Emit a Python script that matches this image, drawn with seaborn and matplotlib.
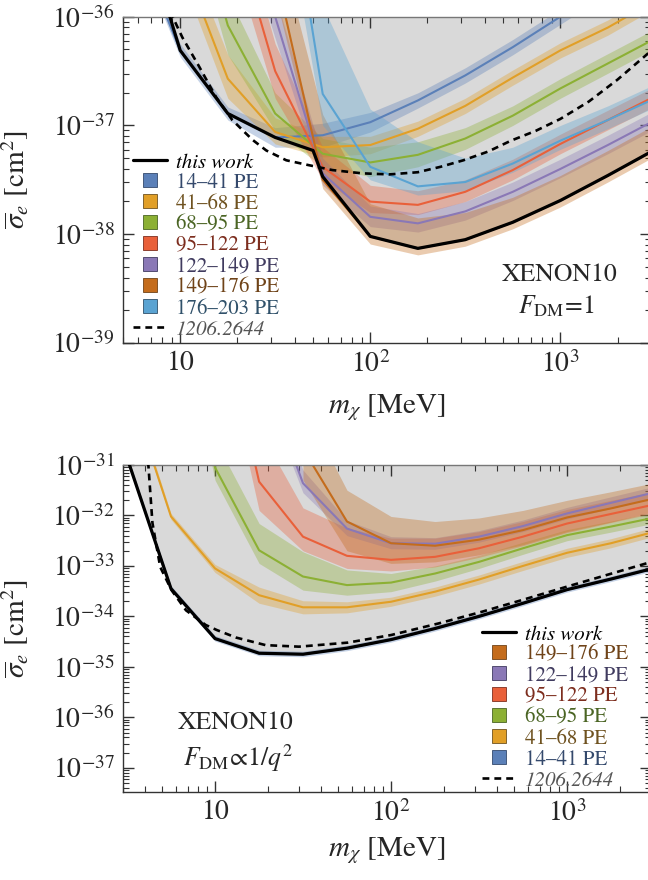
import numpy as np
import pandas as pd
import matplotlib
matplotlib.use("Agg")
import matplotlib.pyplot as plt
import seaborn as sns
from matplotlib.lines import Line2D
from matplotlib.ticker import FixedLocator, LogLocator, FuncFormatter, NullFormatter

# ------------------------------------------------------------------ data
labels = ["14–41 PE", "41–68 PE", "68–95 PE", "95–122 PE",
          "122–149 PE", "149–176 PE", "176–203 PE"]
line_colors = ["#5b80b8", "#e19f27", "#8cb034", "#e9603a",
               "#8a78b6", "#c46c1c", "#5aa3d2"]
text_colors = ["#34496c", "#6f5220", "#4b6524", "#7d2e1f",
               "#403b5f", "#6f4318", "#30516a"]

# tick values (log10)
top_x_ticks = [1, 2, 3]
top_y_ticks = [-39, -38, -37, -36]
bot_x_ticks = [1, 2, 3]
bot_y_ticks = [-37, -36, -35, -34, -33, -32, -31]

# ---------- top panel  (F_DM = 1), values are log10(sigma_e / cm^2)
top_tw_m = [7.5, 10, 17.8, 31.6, 50, 56.2, 100, 178, 316, 562, 1000, 1778, 3162]
top_tw_log = [-35.6, -36.31, -36.89, -37.11, -37.23, -37.47, -38.02, -38.13,
              -38.05, -37.89, -37.69, -37.46, -37.22]

top_ref_m = [8.91, 9.29, 10.26, 12.59, 15.45, 18.79, 23.93, 28.38, 36.14, 46.03,
             63.1, 90.4, 125.9, 177.8, 234.4, 309.0, 416.9, 549.5, 741.3, 1000,
             1412.5, 1995, 2884, 3162]
top_ref_log = [-35.95, -36.03, -36.19, -36.46, -36.74, -36.95, -37.13, -37.23,
               -37.32, -37.36, -37.41, -37.44, -37.45, -37.43, -37.38, -37.32,
               -37.24, -37.14, -37.05, -36.94, -36.78, -36.58, -36.34, -36.28]

top_m_14 = [5.62, 10, 17.8, 31.6, 56.2, 100, 178, 316, 562, 1000, 1778]
top_c_14 = [-35.23, -36.31, -36.89, -37.11, -37.09, -36.97, -36.77, -36.54, -36.28, -36.0, -35.72]
top_lo_14 = [-35.3, -36.37, -36.95, -37.2, -37.2, -37.06, -36.84, -36.61, -36.35, -36.07, -35.79]
top_hi_14 = [-35.15, -36.25, -36.83, -37.02, -36.98, -36.88, -36.7, -36.47, -36.21, -35.93, -35.65]

top_m_41 = [10, 17.8, 31.6, 56.2, 100, 178, 316, 562, 1000, 1778, 3162]
top_c_41 = [-35.43, -36.57, -37.06, -37.2, -37.18, -37.03, -36.82, -36.56, -36.31, -36.1, -35.85]
top_lo_41 = [-35.6, -36.75, -37.17, -37.29, -37.26, -37.1, -36.89, -36.63, -36.38, -36.17, -35.92]
top_hi_41 = [-35.25, -36.35, -36.93, -37.1, -37.1, -36.96, -36.75, -36.49, -36.24, -36.03, -35.78]

top_m_68 = [10, 17.8, 31.6, 56.2, 100, 178, 316, 562, 1000, 1778, 3162]
top_c_68 = [-34.5, -36.08, -36.89, -37.26, -37.34, -37.27, -37.12, -36.91, -36.66, -36.43, -36.2]
top_lo_68 = [-34.8, -36.35, -37.05, -37.38, -37.47, -37.38, -37.22, -37.0, -36.75, -36.52, -36.29]
top_hi_68 = [-34.2, -35.8, -36.7, -37.12, -37.2, -37.15, -37.02, -36.82, -36.57, -36.34, -36.11]

top_m_95 = [17.8, 31.6, 56.2, 100, 178, 316, 562, 1000, 1778, 3162]
top_c_95 = [-35.0, -36.5, -37.38, -37.7, -37.73, -37.61, -37.41, -37.17, -36.95, -36.73]
top_lo_95 = [-35.3, -36.75, -37.5, -37.8, -37.82, -37.7, -37.5, -37.26, -37.04, -36.82]
top_hi_95 = [-34.7, -36.25, -37.2, -37.55, -37.6, -37.5, -37.31, -37.08, -36.86, -36.64]

top_m_122 = [17.8, 31.6, 56.2, 100, 178, 316, 562, 1000, 1778, 3162]
top_c_122 = [-34.5, -36.0, -37.44, -37.84, -37.9, -37.79, -37.61, -37.4, -37.18, -36.95]
top_lo_122 = [-34.8, -36.2, -37.55, -37.93, -37.98, -37.87, -37.69, -37.48, -37.26, -37.03]
top_hi_122 = [-34.2, -35.8, -37.3, -37.74, -37.81, -37.7, -37.52, -37.31, -37.09, -36.86]

top_m_149 = [31.6, 56.2, 100, 178, 316, 562, 1000, 1778, 3162]
top_c_149 = [-35.58, -37.5, -38.02, -38.13, -38.05, -37.89, -37.69, -37.46, -37.22]
top_lo_149 = [-35.8, -37.58, -38.09, -38.19, -38.11, -37.95, -37.75, -37.52, -37.28]
top_hi_149 = [-35.2, -36.9, -37.72, -37.85, -37.8, -37.66, -37.46, -37.23, -36.99]

top_m_176 = [31.6, 56.2, 100, 178, 316, 562, 1000, 1778, 3162]
top_c_176 = [-34.0, -36.71, -37.38, -37.56, -37.52, -37.35, -37.14, -36.95, -36.75]
top_lo_176 = [-34.5, -37.0, -37.5, -37.64, -37.6, -37.43, -37.22, -37.03, -36.83]
top_hi_176 = [-33.5, -35.9, -36.85, -37.15, -37.3, -37.2, -37.0, -36.82, -36.62]

# ---------- bottom panel  (F_DM ~ 1/q^2)
bot_tw_m = [3.16, 5.62, 10, 17.8, 31.6, 56.2, 100, 178, 316, 562, 1000, 1778, 3162]
bot_tw_log = [-30.85, -33.45, -34.44, -34.73, -34.75, -34.63, -34.46, -34.24,
              -34.0, -33.74, -33.47, -33.26, -33.04]

bot_ref_m = [4.12, 4.18, 4.41, 4.88, 5.66, 6.84, 8.85, 10.23, 13.18, 19.41,
             29.99, 56.75, 100, 186.2, 327.3, 575.4, 1000, 2884, 3162]
bot_ref_log = [-30.7, -31.0, -32.15, -33.02, -33.48, -33.88, -34.17, -34.27,
               -34.42, -34.57, -34.6, -34.52, -34.37, -34.14, -33.91, -33.66,
               -33.41, -32.94, -32.9]

bot_m_14 = bot_tw_m
bot_c_14 = bot_tw_log
bot_lo_14 = [-30.9, -33.5, -34.49, -34.78, -34.8, -34.68, -34.51, -34.29, -34.05, -33.79, -33.52, -33.31, -33.09]
bot_hi_14 = [-30.79, -33.39, -34.38, -34.67, -34.69, -34.57, -34.4, -34.18, -33.94, -33.68, -33.41, -33.2, -32.98]

bot_m_41 = [3.16, 5.62, 10, 17.8, 31.6, 56.2, 100, 178, 316, 562, 1000, 1778, 3162]
bot_c_41 = [-29.35, -32.02, -33.05, -33.58, -33.82, -33.82, -33.71, -33.51, -33.27, -33.0, -32.74, -32.55, -32.32]
bot_lo_41 = [-29.45, -32.08, -33.13, -33.74, -33.95, -33.93, -33.8, -33.6, -33.36, -33.09, -32.83, -32.64, -32.41]
bot_hi_41 = [-29.25, -31.96, -32.97, -33.42, -33.69, -33.71, -33.62, -33.42, -33.18, -32.91, -32.65, -32.46, -32.23]

bot_m_68 = [5.62, 10, 17.8, 31.6, 56.2, 100, 178, 316, 562, 1000, 1778, 3162]
bot_c_68 = [-27.0, -31.05, -32.69, -33.21, -33.38, -33.33, -33.15, -32.92, -32.65, -32.39, -32.22, -32.04]
bot_lo_68 = [-27.3, -31.3, -32.95, -33.48, -33.58, -33.51, -33.3, -33.05, -32.77, -32.5, -32.33, -32.15]
bot_hi_68 = [-26.5, -30.5, -32.16, -32.72, -33.08, -33.15, -33.0, -32.79, -32.53, -32.28, -32.11, -31.93]

bot_m_95 = [10, 17.8, 31.6, 56.2, 100, 178, 316, 562, 1000, 1778, 3162]
bot_c_95 = [-27.5, -31.33, -32.42, -32.8, -32.88, -32.82, -32.65, -32.42, -32.16, -31.97, -31.78]
bot_lo_95 = [-28.0, -31.9, -32.7, -33.05, -33.1, -33.02, -32.83, -32.6, -32.34, -32.14, -31.95]
bot_hi_95 = [-27.0, -30.3, -31.85, -32.25, -32.45, -32.45, -32.32, -32.12, -31.88, -31.7, -31.52]

bot_m_122 = [17.8, 31.6, 56.2, 100, 178, 316, 562, 1000, 1778, 3162]
bot_c_122 = [-29.0, -31.36, -32.26, -32.55, -32.56, -32.42, -32.21, -31.96, -31.75, -31.54]
bot_lo_122 = [-29.3, -31.55, -32.4, -32.66, -32.67, -32.53, -32.32, -32.07, -31.86, -31.65]
bot_hi_122 = [-28.7, -31.1, -32.1, -32.42, -32.44, -32.3, -32.09, -31.84, -31.63, -31.42]

bot_m_149 = [31.6, 56.2, 100, 178, 316, 562, 1000, 1778, 3162]
bot_c_149 = [-30.68, -32.12, -32.55, -32.6, -32.48, -32.29, -32.04, -31.86, -31.66]
bot_lo_149 = [-31.3, -32.7, -32.95, -32.92, -32.78, -32.58, -32.32, -32.13, -31.92]
bot_hi_149 = [-29.8, -31.5, -32.02, -32.12, -32.05, -31.9, -31.7, -31.53, -31.35]

top_series = [
    (top_m_14, top_c_14, top_lo_14, top_hi_14),
    (top_m_41, top_c_41, top_lo_41, top_hi_41),
    (top_m_68, top_c_68, top_lo_68, top_hi_68),
    (top_m_95, top_c_95, top_lo_95, top_hi_95),
    (top_m_122, top_c_122, top_lo_122, top_hi_122),
    (top_m_149, top_c_149, top_lo_149, top_hi_149),
    (top_m_176, top_c_176, top_lo_176, top_hi_176),
]
bot_series = [
    (bot_m_14, bot_c_14, bot_lo_14, bot_hi_14),
    (bot_m_41, bot_c_41, bot_lo_41, bot_hi_41),
    (bot_m_68, bot_c_68, bot_lo_68, bot_hi_68),
    (bot_m_95, bot_c_95, bot_lo_95, bot_hi_95),
    (bot_m_122, bot_c_122, bot_lo_122, bot_hi_122),
    (bot_m_149, bot_c_149, bot_lo_149, bot_hi_149),
]

# ------------------------------------------------------------------ style
sns.set_theme(style="ticks")
plt.rcParams["font.family"] = ["STIXGeneral", "DejaVu Serif"]
plt.rcParams["mathtext.fontset"] = "stix"
plt.rcParams["axes.facecolor"] = "white"

GREY = "#d9d9d9"
SPINE = "#333333"


def pw(v):
    return [10.0 ** x for x in v]


def line(ax, m, logv, **kw):
    df = pd.DataFrame({"m": m, "s": pw(logv)})
    sns.lineplot(data=df, x="m", y="s", ax=ax, estimator=None, sort=False,
                 legend=False, **kw)


def panel(ax, tw_m, tw_log, ref_m, ref_log, series, order_colors, ylim, xlim,
          xt, yt):
    ax.set_xscale("log")
    ax.set_yscale("log")
    ax.fill_between(tw_m, pw(tw_log), ylim[1] * 10, color=GREY, lw=0, zorder=0.5)
    for (m, c, lo, hi), col in zip(series, order_colors):
        ax.fill_between(m, pw(lo), pw(hi), color=col, alpha=0.35, lw=0, zorder=1)
    for (m, c, lo, hi), col in zip(series, order_colors):
        line(ax, m, c, color=col, lw=1.5, zorder=2)
    line(ax, tw_m, tw_log, color="black", lw=2.3, zorder=3)
    line(ax, ref_m, ref_log, color="black", lw=1.9, zorder=3,
         dashes=(2.6, 1.9))
    ax.set_xlim(*xlim)
    ax.set_ylim(*ylim)

    def xfmt(v, _):
        e = int(round(np.log10(v)))
        return r"$10$" if e == 1 else r"$10^{%d}$" % e

    def yfmt(v, _):
        return r"$10^{%d}$" % int(round(np.log10(v)))

    ax.xaxis.set_major_locator(FixedLocator(pw(xt)))
    ax.yaxis.set_major_locator(FixedLocator(pw(yt)))
    ax.xaxis.set_minor_locator(LogLocator(base=10, subs=np.arange(2, 10), numticks=20))
    ax.yaxis.set_minor_locator(LogLocator(base=10, subs=np.arange(2, 10), numticks=20))
    ax.xaxis.set_major_formatter(FuncFormatter(xfmt))
    ax.yaxis.set_major_formatter(FuncFormatter(yfmt))
    ax.xaxis.set_minor_formatter(NullFormatter())
    ax.yaxis.set_minor_formatter(NullFormatter())
    ax.tick_params(which="major", direction="in", length=8, width=1.0,
                   top=True, right=True, labelsize=20, pad=6, color=SPINE)
    ax.tick_params(which="minor", direction="in", length=4, width=0.8,
                   top=True, right=True, color=SPINE)
    for s in ax.spines.values():
        s.set_color(SPINE)
        s.set_linewidth(1.0)
    ax.spines["top"].set_color("#777777")
    ax.set_ylabel(r"$\overline{\sigma}_e$ [cm$^2$]", fontsize=21)
    ax.set_xlabel(r"$m_\chi$ [MeV]", fontsize=21)


W, H = 648, 880
fig = plt.figure(figsize=(W / 100, H / 100), dpi=100)

ax1 = fig.add_axes([123 / W, 1 - 343 / H, (651 - 123) / W, (343 - 16.7) / H])
ax2 = fig.add_axes([123 / W, 1 - 792 / H, (651 - 123) / W, (792 - 465) / H])

panel(ax1, top_tw_m, top_tw_log, top_ref_m, top_ref_log, top_series,
      line_colors, (1e-39, 1e-36), (5, 3000), top_x_ticks, top_y_ticks)
panel(ax2, bot_tw_m, bot_tw_log, bot_ref_m, bot_ref_log, bot_series,
      line_colors[:6], (10 ** -37.48, 1e-31), (3, 3000), bot_x_ticks, bot_y_ticks)

ax1.yaxis.set_label_coords(-0.175, 0.5)
ax2.yaxis.set_label_coords(-0.175, 0.5)
ax1.xaxis.set_label_coords(0.5, -0.15)
ax2.xaxis.set_label_coords(0.5, -0.133)

# annotations
fig.text(560 / W, 1 - 275 / H, "XENON10", ha="center", va="center", fontsize=18.5)
fig.text(557 / W, 1 - 307 / H, r"$F_{\rm DM}\!=\!1$", ha="center", va="center", fontsize=18.5)
fig.text(236 / W, 1 - 723 / H, "XENON10", ha="center", va="center", fontsize=18.5)
fig.text(238 / W, 1 - 758 / H, r"$F_{\rm DM}\!\propto\!1/q^2$", ha="center", va="center", fontsize=18.5)


def make_legend(ax, idx, x_px, ytop_px):
    handles = [Line2D([0], [0], color="black", lw=2.3)]
    labs = ["this work"]
    tcols = ["black"]
    for i in idx:
        handles.append(Line2D([0], [0], marker="s", ms=10.5, ls="none",
                              mfc=line_colors[i], mec=text_colors[i], mew=0.6))
        labs.append(labels[i])
        tcols.append(text_colors[i])
    handles.append(Line2D([0], [0], color="black", lw=1.9, dashes=(2.6, 1.9)))
    labs.append("1206.2644")
    tcols.append("#555555")
    leg = ax.legend(handles, labs, loc="upper left",
                    bbox_to_anchor=(x_px / W, 1 - ytop_px / H),
                    bbox_transform=fig.transFigure, frameon=False,
                    fontsize=15, handlelength=1.63, handletextpad=0.45,
                    labelspacing=0.06, borderpad=0, borderaxespad=0,
                    labelcolor=tcols)
    leg.get_texts()[0].set_style("italic")
    leg.get_texts()[-1].set_style("italic")
    leg.set_zorder(10)
    return leg


make_legend(ax1, [0, 1, 2, 3, 4, 5, 6], 133, 153)
make_legend(ax2, [5, 4, 3, 2, 1, 0], 482, 625)

fig.savefig("out.png", dpi=100)
